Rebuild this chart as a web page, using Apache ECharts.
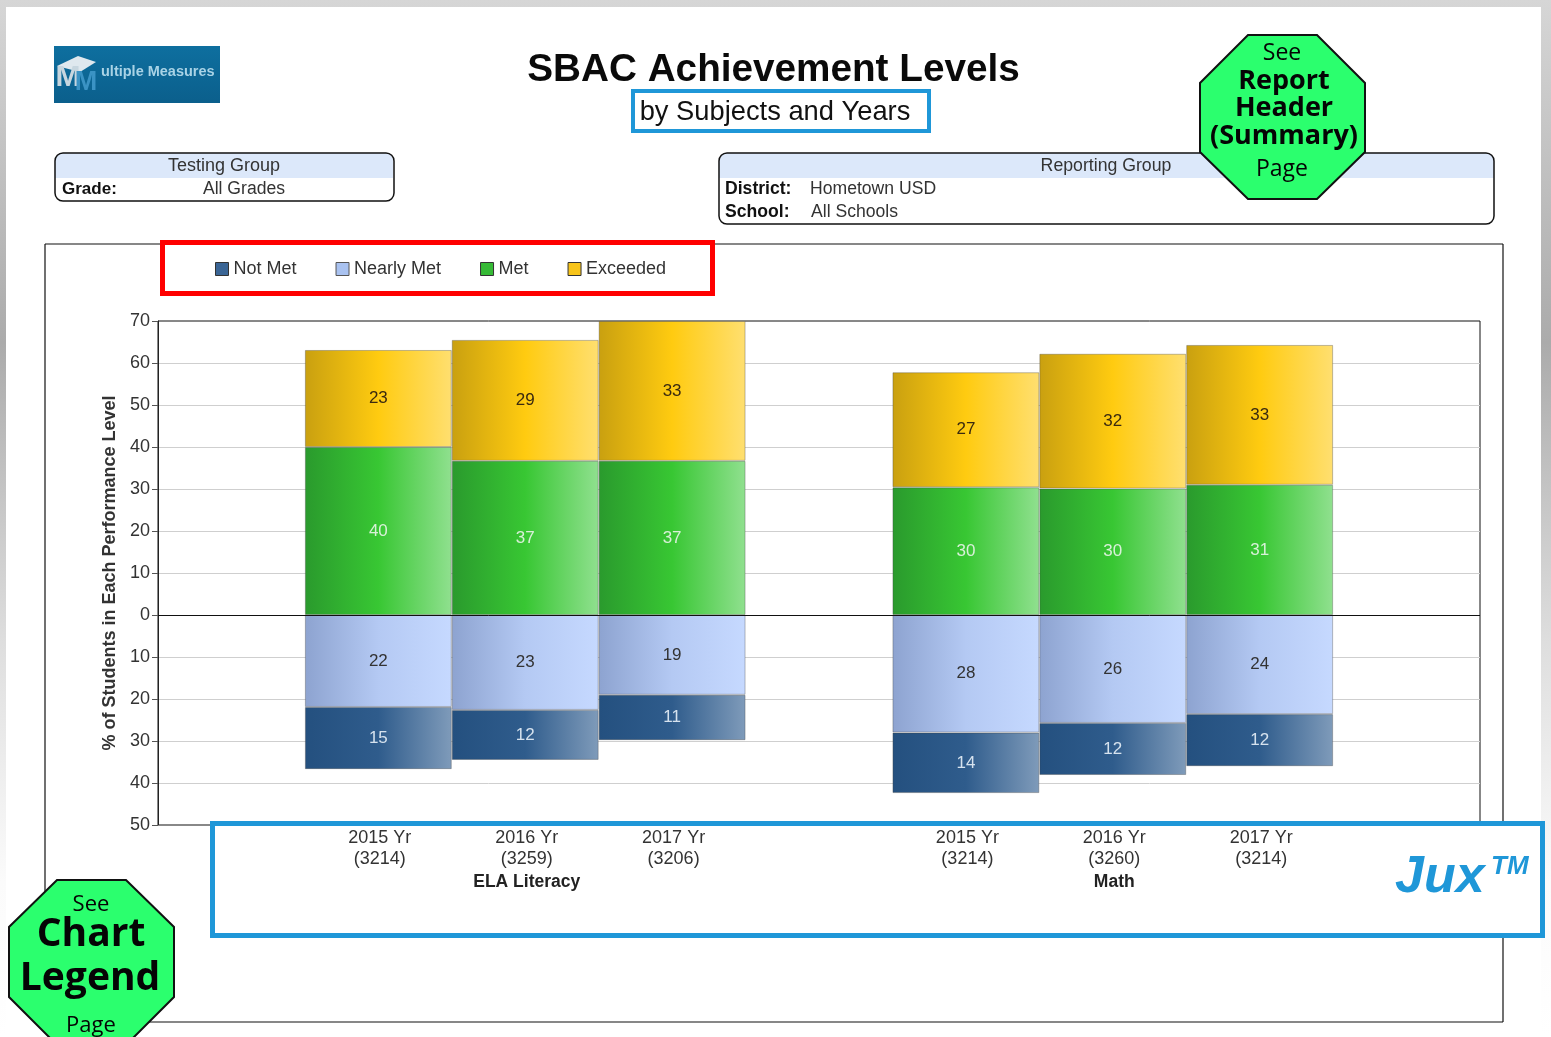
<!DOCTYPE html>
<html>
<head>
<meta charset="utf-8">
<title>SBAC Achievement Levels</title>
<style>
  html, body { margin: 0; padding: 0; background: #fff; }
  #main { width: 1551px; height: 1037px; }
</style>
<script src="https://cdn.jsdelivr.net/npm/echarts@6/dist/echarts.min.js"></script>
</head>
<body>
<div id="main"></div>
<script>
// blank slots keep the gap between the two subjects
const yearLabels = ['', '2015 Yr', '2016 Yr', '2017 Yr', '', '2015 Yr', '2016 Yr', '2017 Yr', ''];
const studentCounts = ['', '(3214)', '(3259)', '(3206)', '', '(3214)', '(3260)', '(3214)', ''];
const subjectLabels = ['', '', 'ELA Literacy', '', '', '', 'Math', '', ''];

// values below zero are drawn downward, labels show rounded absolute value
const notMet = [null, -14.8, -11.9, -10.8, null, -14.4, -12.4, -12.4, null];
const nearlyMet = [null, -21.9, -22.6, -19, null, -28, -25.7, -23.6, null];
const met = [null, 40, 36.7, 36.7, null, 30.4, 30.1, 31, null];
const exceeded = [null, 23.1, 28.8, 33.3, null, 27.4, 32.1, 33.3, null];

const legendNames = ['Not Met', 'Nearly Met', 'Met', 'Exceeded'];

const SANS = '"Liberation Sans", Arial, sans-serif';
const CAL = '"Open Sans", "Noto Sans", sans-serif';
const BLUE = '#1f97d8';

function hGrad(a, b, c) {
    return new echarts.graphic.LinearGradient(0, 0, 1, 0, [
        { offset: 0, color: a },
        { offset: 0.5, color: b },
        { offset: 1, color: c }
    ]);
}

function txt(text, x, y, font, fill, align) {
    return {
        type: 'text', z: 120,
        style: { text: text, x: x, y: y, font: font, fill: fill || '#333', textAlign: align || 'center', textVerticalAlign: 'middle' }
    };
}

function box(x, y, w, h, color, width, fill, z) {
    return {
        type: 'rect', z: z || 110,
        shape: { x: x, y: y, width: w, height: h },
        style: { fill: fill || 'none', stroke: color, lineWidth: width }
    };
}

function line(x1, y1, x2, y2) {
    return {
        type: 'line', z: 1,
        shape: { x1: x1, y1: y1, x2: x2, y2: y2 },
        style: { stroke: '#111', lineWidth: 1.2 }
    };
}

function octagon(pts) {
    return {
        type: 'polygon', z: 130,
        shape: { points: pts },
        style: { fill: '#2bff6e', stroke: '#111', lineWidth: 2 }
    };
}

function octText(text, x, y, font) {
    let t = txt(text, x, y, font, '#050505');
    t.z = 131;
    return t;
}

function barSeries(name, data, grad, labelColor) {
    return {
        name: name,
        type: 'bar',
        stack: 'levels',
        barWidth: '100%',
        data: data,
        itemStyle: { color: grad, borderColor: 'rgba(70,70,70,0.35)', borderWidth: 1 },
        label: {
            show: true,
            position: 'inside',
            color: labelColor,
            fontFamily: SANS,
            fontSize: 17,
            formatter: p => Math.round(Math.abs(p.value))
        }
    };
}

const decor = [
    // page margins
    { type: 'rect', z: -3, shape: { x: 0, y: 0, width: 1551, height: 1037 },
      style: { fill: new echarts.graphic.LinearGradient(0, 0, 0, 1, [
          { offset: 0, color: '#d6d6d6' },
          { offset: 0.33, color: '#ababab' },
          { offset: 0.62, color: '#dedede' },
          { offset: 0.85, color: '#fbfbfb' },
          { offset: 1, color: '#ffffff' }
      ]) } },
    { type: 'rect', z: -2, shape: { x: 6, y: 7, width: 1535, height: 1030 }, style: { fill: '#fff' } },

    // logo
    { type: 'rect', z: 5, shape: { x: 54, y: 46, width: 166, height: 57 },
      style: { fill: new echarts.graphic.LinearGradient(0, 0, 0, 1, [
          { offset: 0, color: '#0e6f9f' }, { offset: 1, color: '#0b5f8c' }
      ]) } },
    { type: 'polygon', z: 6, shape: { points: [[57, 66], [78, 56], [96, 62], [80, 72]] }, style: { fill: '#dfe8ee' } },
    txt('M', 68, 78, 'bold 30px ' + SANS, '#c7d6df'),
    txt('M', 86, 83, 'bold 27px ' + SANS, '#3b93c4'),
    txt('ultiple Measures', 101, 72, 'bold 14.5px ' + SANS, '#a9d3e6', 'left'),

    // titles
    txt('SBAC Achievement Levels', 773.5, 70, 'bold 38.7px ' + SANS, '#0a0a0a'),
    txt('by Subjects and Years', 775, 112, '27.3px ' + SANS, '#111'),
    box(633, 91, 296, 40, BLUE, 4),

    // testing group panel
    { type: 'rect', z: 4, shape: { x: 55, y: 153, width: 338, height: 25, r: [8, 8, 0, 0] }, style: { fill: '#dce8fa' } },
    { type: 'rect', z: 5, shape: { x: 55, y: 153, width: 339, height: 48, r: 8 }, style: { fill: 'none', stroke: '#111', lineWidth: 1.5 } },
    txt('Testing Group', 224, 166, '18px ' + SANS, '#333'),
    txt('Grade:', 62, 189, 'bold 17px ' + SANS, '#111', 'left'),
    txt('All Grades', 244, 189, '17.6px ' + SANS, '#333'),

    // reporting group panel
    { type: 'rect', z: 4, shape: { x: 719, y: 153, width: 775, height: 25, r: [8, 8, 0, 0] }, style: { fill: '#dce8fa' } },
    { type: 'rect', z: 5, shape: { x: 719, y: 153, width: 775, height: 71, r: 8 }, style: { fill: 'none', stroke: '#111', lineWidth: 1.5 } },
    txt('Reporting Group', 1106, 166, '17.7px ' + SANS, '#333'),
    txt('District:', 725, 189, 'bold 17.6px ' + SANS, '#111', 'left'),
    txt('Hometown USD', 810, 189, '17.6px ' + SANS, '#333', 'left'),
    txt('School:', 725, 212, 'bold 17.6px ' + SANS, '#111', 'left'),
    txt('All Schools', 811, 212, '17.6px ' + SANS, '#333', 'left'),

    // outer chart frame, broken where the blue note box sits
    line(45, 244, 1503, 244),
    line(45, 244, 45, 900),
    line(1503, 244, 1503, 821),
    line(1503, 938, 1503, 1022),
    line(130, 1022, 1503, 1022),

    // annotation boxes
    box(162.5, 242.5, 550, 51, '#ff0000', 5),
    box(212.5, 823.5, 1330, 112, BLUE, 5),

    // Jux mark
    txt('Jux', 1395, 878, 'italic bold 52px ' + SANS, BLUE, 'left'),
    txt('TM', 1491, 867, 'italic bold 26px ' + SANS, BLUE, 'left'),

    // call-outs
    octagon([[1248, 35], [1317, 35], [1365, 83], [1365, 152], [1317, 199], [1248, 199], [1200, 152], [1200, 83]]),
    octText('See', 1282, 53, '23px ' + CAL),
    octText('Report', 1284, 81, 'bold 27px ' + CAL),
    octText('Header', 1284, 108, 'bold 27px ' + CAL),
    octText('(Summary)', 1284, 136, 'bold 27px ' + CAL),
    octText('Page', 1282, 169, '23px ' + CAL),

    octagon([[57, 880], [126, 880], [174, 927], [174, 997], [126, 1045], [57, 1045], [9, 997], [9, 927]]),
    octText('See', 91, 905, '22px ' + CAL),
    octText('Chart', 91, 935, 'bold 39px ' + CAL),
    octText('Legend', 90, 979, 'bold 39px ' + CAL),
    octText('Page', 91, 1026, '22px ' + CAL)
];

const nearlySeries = barSeries('Nearly Met', nearlyMet, hGrad('#8da3d0', '#b4c9f3', '#c6d9ff'), '#333');
nearlySeries.markLine = {
    silent: true,
    symbol: 'none',
    label: { show: false },
    lineStyle: { color: '#111', width: 1, type: 'solid' },
    data: [{ yAxis: 0 }]
};

const option = {
    animation: false,
    textStyle: { fontFamily: SANS },
    graphic: { elements: decor },
    legend: {
        left: 210,
        top: 255,
        itemWidth: 13,
        itemHeight: 13,
        itemGap: 39,
        icon: 'rect',
        selectedMode: false,
        textStyle: { color: '#333', fontSize: 18, fontFamily: SANS },
        data: [
            { name: legendNames[0], itemStyle: { color: '#3a6595', borderColor: '#333', borderWidth: 1 } },
            { name: legendNames[1], itemStyle: { color: '#a9c2f0', borderColor: '#555', borderWidth: 1 } },
            { name: legendNames[2], itemStyle: { color: '#36ba36', borderColor: '#333', borderWidth: 1 } },
            { name: legendNames[3], itemStyle: { color: '#f7c41a', borderColor: '#333', borderWidth: 1 } }
        ]
    },
    grid: { left: 158, right: 71, top: 321, bottom: 212, show: true, borderColor: '#111', borderWidth: 1 },
    xAxis: {
        type: 'category',
        data: yearLabels.map((y, i) => i),
        axisTick: { show: false },
        axisLine: { onZero: false, lineStyle: { color: '#888' } },
        axisLabel: {
            interval: 0,
            margin: 3,
            padding: [0, 0, 0, 3],
            formatter: (v, i) => {
                if (!yearLabels[i]) return '';
                let s = '{y|' + yearLabels[i] + '}\n{y|' + studentCounts[i] + '}';
                if (subjectLabels[i]) s += '\n{s|' + subjectLabels[i] + '}';
                return s;
            },
            rich: {
                y: { fontFamily: SANS, fontSize: 18, color: '#333', lineHeight: 21 },
                s: { fontFamily: SANS, fontSize: 17.5, fontWeight: 'bold', color: '#222', lineHeight: 24 }
            }
        }
    },
    yAxis: {
        type: 'value',
        min: -50,
        max: 70,
        interval: 10,
        name: '% of Students in Each Performance Level',
        nameLocation: 'middle',
        nameGap: 33,
        nameTextStyle: { fontFamily: SANS, fontSize: 18, fontWeight: 'bold', color: '#333' },
        axisLine: { show: true, lineStyle: { color: '#222' } },
        axisTick: { show: true, length: 6, lineStyle: { color: '#555' } },
        axisLabel: { margin: 8, color: '#333', fontSize: 18, fontFamily: SANS, formatter: v => Math.abs(v) },
        splitLine: { show: true, showMinLine: false, showMaxLine: false, lineStyle: { color: '#cfcfcf', width: 1 } }
    },
    series: [
        nearlySeries,
        barSeries('Not Met', notMet, hGrad('#24507f', '#2f5c8c', '#7f9bba'), '#d6e2ee'),
        barSeries('Met', met, hGrad('#2a9a2d', '#38c733', '#90e08f'), '#d8f0d8'),
        barSeries('Exceeded', exceeded, hGrad('#c9a010', '#ffcb10', '#ffdf70'), '#3a2a10')
    ]
};

const myChart = echarts.init(document.getElementById('main'));
myChart.setOption(option);
</script>
</body>
</html>
